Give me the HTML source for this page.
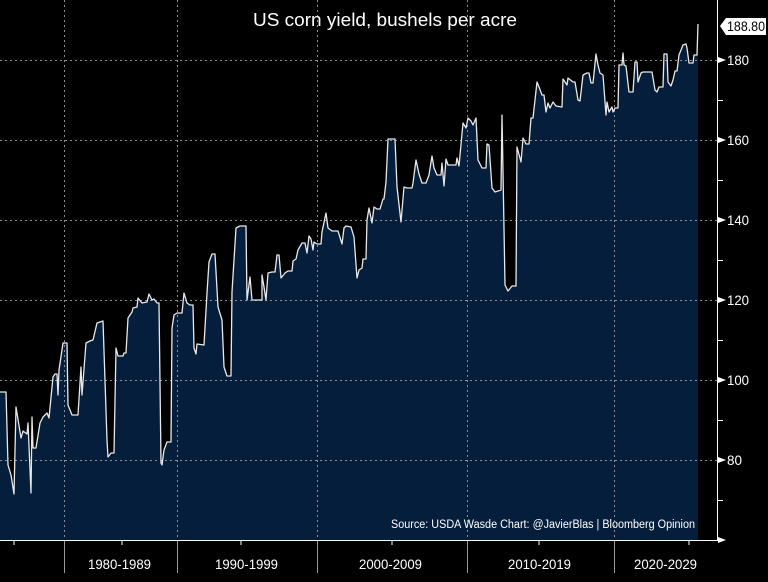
<!DOCTYPE html>
<html><head><meta charset="utf-8"><style>
html,body{margin:0;padding:0;background:#000;}
svg{display:block}
text{font-family:"Liberation Sans",sans-serif;}
</style></head><body>
<svg width="768" height="582" viewBox="0 0 768 582" xmlns="http://www.w3.org/2000/svg">
<rect width="768" height="582" fill="#000"/>
<polygon fill="#051e3b" points="0,540 0,392 6,392 8,465 11,475 14,494 16,407 21,438 23,431 27,434 28,423 31,493 32,417 33,448 36,448 40,423 43,417 47,413 49,418 53,377 55,374 57,374 58,395 59,370 63,343 67,343 68,405 72,415 78,415 81,367 82,395 86,343 90,341 93,340 97,323 100,322 103,321 107,440 108,457 111,453 114,453 116,348 118,356 123,356 124,353 126,353 128,318 132,312 133,308 137,307 138,298 142,303 147,302 149,294 152,300 154,299 157,303 159,303 161,463 162,465 164,450 167,442 171,442 172,328 174,315 177,313 182,313 184,293 187,303 190,305 193,305 194,348 196,354 197,344 204,345 207,293 209,262 212,254 215,254 218,307 222,320 224,367 227,376 231,376 232,292 236,228 240,226 246,226 247,300 250,277 252,300 262,300 262,275 264,287 266,300 268,273 272,272 275,272 277,255 279,255 281,278 285,273 288,271 292,271 293,261 296,259 298,250 302,243 305,243 307,253 309,236 311,239 313,250 314,242 317,244 321,244 322,232 326,213 328,228 332,231 338,231 342,244 344,228 346,226 351,227 354,237 357,278 359,270 362,268 363,259 366,259 367,220 369,208 372,223 374,207 377,209 380,209 383,199 384,199 386,182 388,139 395,139 397,187 401,222 404,187 407,188 412,188 413,183 416,160 419,174 422,183 426,183 429,175 432,156 434,168 437,175 441,175 442,163 444,186 446,159 448,165 456,165 457,158 459,166 463,123 466,128 468,118 471,121 473,125 476,118 478,160 482,168 486,168 487,144 489,145 492,188 495,192 501,190 502,115 505,285 508,291 512,286 516,286 517,147 521,162 523,138 526,144 529,144 531,118 533,118 537,82 539,87 542,95 544,95 546,112 548,103 550,108 553,102 556,106 562,107 563,79 567,85 568,78 573,82 575,82 578,100 580,101 583,75 587,73 589,73 591,83 593,83 596,54 598,65 600,73 603,75 606,115 607,102 609,112 612,107 613,112 615,108 618,108 619,65 622,65 623,53 624,65 626,66 629,92 633,92 635,62 637,62 638,82 641,73 643,72 652,72 655,90 657,92 659,87 663,87 664,54 667,54 668,82 671,86 673,80 675,71 677,71 679,55 683,45 686,44 687,48 689,63 693,63 694,55 697,55 698,24 698,540"/>
<g stroke="#8a8f96" stroke-width="1" stroke-dasharray="2,3" fill="none">
<line x1="0" y1="60.5" x2="718" y2="60.5"/>
<line x1="0" y1="140.5" x2="718" y2="140.5"/>
<line x1="0" y1="220.5" x2="718" y2="220.5"/>
<line x1="0" y1="300.5" x2="718" y2="300.5"/>
<line x1="0" y1="380.5" x2="718" y2="380.5"/>
<line x1="0" y1="460.5" x2="718" y2="460.5"/>
<line x1="64.5" y1="0" x2="64.5" y2="540"/>
<line x1="177.5" y1="0" x2="177.5" y2="540"/>
<line x1="317.5" y1="0" x2="317.5" y2="540"/>
<line x1="467.5" y1="0" x2="467.5" y2="540"/>
<line x1="614.5" y1="0" x2="614.5" y2="540"/>
</g>
<polyline fill="none" stroke="#e8e8e8" stroke-width="1.3" stroke-linejoin="round" points="0,392 6,392 8,465 11,475 14,494 16,407 21,438 23,431 27,434 28,423 31,493 32,417 33,448 36,448 40,423 43,417 47,413 49,418 53,377 55,374 57,374 58,395 59,370 63,343 67,343 68,405 72,415 78,415 81,367 82,395 86,343 90,341 93,340 97,323 100,322 103,321 107,440 108,457 111,453 114,453 116,348 118,356 123,356 124,353 126,353 128,318 132,312 133,308 137,307 138,298 142,303 147,302 149,294 152,300 154,299 157,303 159,303 161,463 162,465 164,450 167,442 171,442 172,328 174,315 177,313 182,313 184,293 187,303 190,305 193,305 194,348 196,354 197,344 204,345 207,293 209,262 212,254 215,254 218,307 222,320 224,367 227,376 231,376 232,292 236,228 240,226 246,226 247,300 250,277 252,300 262,300 262,275 264,287 266,300 268,273 272,272 275,272 277,255 279,255 281,278 285,273 288,271 292,271 293,261 296,259 298,250 302,243 305,243 307,253 309,236 311,239 313,250 314,242 317,244 321,244 322,232 326,213 328,228 332,231 338,231 342,244 344,228 346,226 351,227 354,237 357,278 359,270 362,268 363,259 366,259 367,220 369,208 372,223 374,207 377,209 380,209 383,199 384,199 386,182 388,139 395,139 397,187 401,222 404,187 407,188 412,188 413,183 416,160 419,174 422,183 426,183 429,175 432,156 434,168 437,175 441,175 442,163 444,186 446,159 448,165 456,165 457,158 459,166 463,123 466,128 468,118 471,121 473,125 476,118 478,160 482,168 486,168 487,144 489,145 492,188 495,192 501,190 502,115 505,285 508,291 512,286 516,286 517,147 521,162 523,138 526,144 529,144 531,118 533,118 537,82 539,87 542,95 544,95 546,112 548,103 550,108 553,102 556,106 562,107 563,79 567,85 568,78 573,82 575,82 578,100 580,101 583,75 587,73 589,73 591,83 593,83 596,54 598,65 600,73 603,75 606,115 607,102 609,112 612,107 613,112 615,108 618,108 619,65 622,65 623,53 624,65 626,66 629,92 633,92 635,62 637,62 638,82 641,73 643,72 652,72 655,90 657,92 659,87 663,87 664,54 667,54 668,82 671,86 673,80 675,71 677,71 679,55 683,45 686,44 687,48 689,63 693,63 694,55 697,55 698,24"/>
<line x1="0" y1="540.5" x2="718" y2="540.5" stroke="#fff" stroke-width="1"/>
<line x1="717.5" y1="0" x2="717.5" y2="540" stroke="#fff" stroke-width="1"/>
<g stroke="#9a9a9a" stroke-width="1">
<line x1="64.5" y1="541" x2="64.5" y2="573"/>
<line x1="177.5" y1="541" x2="177.5" y2="573"/>
<line x1="317.5" y1="541" x2="317.5" y2="573"/>
<line x1="467.5" y1="541" x2="467.5" y2="573"/>
<line x1="614.5" y1="541" x2="614.5" y2="573"/>
</g>
<g stroke="#fff" stroke-width="1">
<line x1="14" y1="541" x2="14" y2="545"/><line x1="122" y1="541" x2="122" y2="545"/>
<line x1="241" y1="541" x2="241" y2="545"/><line x1="392" y1="541" x2="392" y2="545"/>
<line x1="539" y1="541" x2="539" y2="545"/><line x1="689" y1="541" x2="689" y2="545"/>
<line x1="718" y1="100.5" x2="723" y2="100.5"/><line x1="718" y1="180.5" x2="723" y2="180.5"/>
<line x1="718" y1="260.5" x2="723" y2="260.5"/><line x1="718" y1="340.5" x2="723" y2="340.5"/>
<line x1="718" y1="420.5" x2="723" y2="420.5"/><line x1="718" y1="500.5" x2="723" y2="500.5"/>
</g>
<g fill="#fff">
<polygon points="718,57 726,60 718,63"/><polygon points="718,137 726,140 718,143"/>
<polygon points="718,217 726,220 718,223"/><polygon points="718,297 726,300 718,303"/>
<polygon points="718,377 726,380 718,383"/><polygon points="718,457 726,460 718,463"/>
<polygon points="718,537 726,540 718,543"/>
</g>
<g fill="#fff" font-size="14">
<text x="727" y="65" textLength="22" lengthAdjust="spacingAndGlyphs">180</text><text x="727" y="145" textLength="22" lengthAdjust="spacingAndGlyphs">160</text>
<text x="727" y="225" textLength="22" lengthAdjust="spacingAndGlyphs">140</text><text x="727" y="305" textLength="22" lengthAdjust="spacingAndGlyphs">120</text>
<text x="727" y="385" textLength="22" lengthAdjust="spacingAndGlyphs">100</text><text x="727" y="465" textLength="15" lengthAdjust="spacingAndGlyphs">80</text>
</g>
<polygon points="720,26 726,18 766,18 766,35 726,35" fill="#fff"/>
<text x="727" y="31" font-size="14" fill="#000" textLength="38" lengthAdjust="spacingAndGlyphs">188.80</text>
<text x="385" y="26" font-size="18" fill="#fff" text-anchor="middle" textLength="264" lengthAdjust="spacingAndGlyphs">US corn yield, bushels per acre</text>
<text x="391" y="528" font-size="11.5" fill="#fff" textLength="304" lengthAdjust="spacingAndGlyphs">Source: USDA Wasde Chart: @JavierBlas | Bloomberg Opinion</text>
<g fill="#fff" font-size="14">
<text x="88" y="569" textLength="63" lengthAdjust="spacingAndGlyphs">1980-1989</text>
<text x="215" y="569" textLength="63" lengthAdjust="spacingAndGlyphs">1990-1999</text>
<text x="359" y="569" textLength="63" lengthAdjust="spacingAndGlyphs">2000-2009</text>
<text x="508" y="569" textLength="63" lengthAdjust="spacingAndGlyphs">2010-2019</text>
<text x="634" y="569" textLength="63" lengthAdjust="spacingAndGlyphs">2020-2029</text>
</g>
</svg>
</body></html>
